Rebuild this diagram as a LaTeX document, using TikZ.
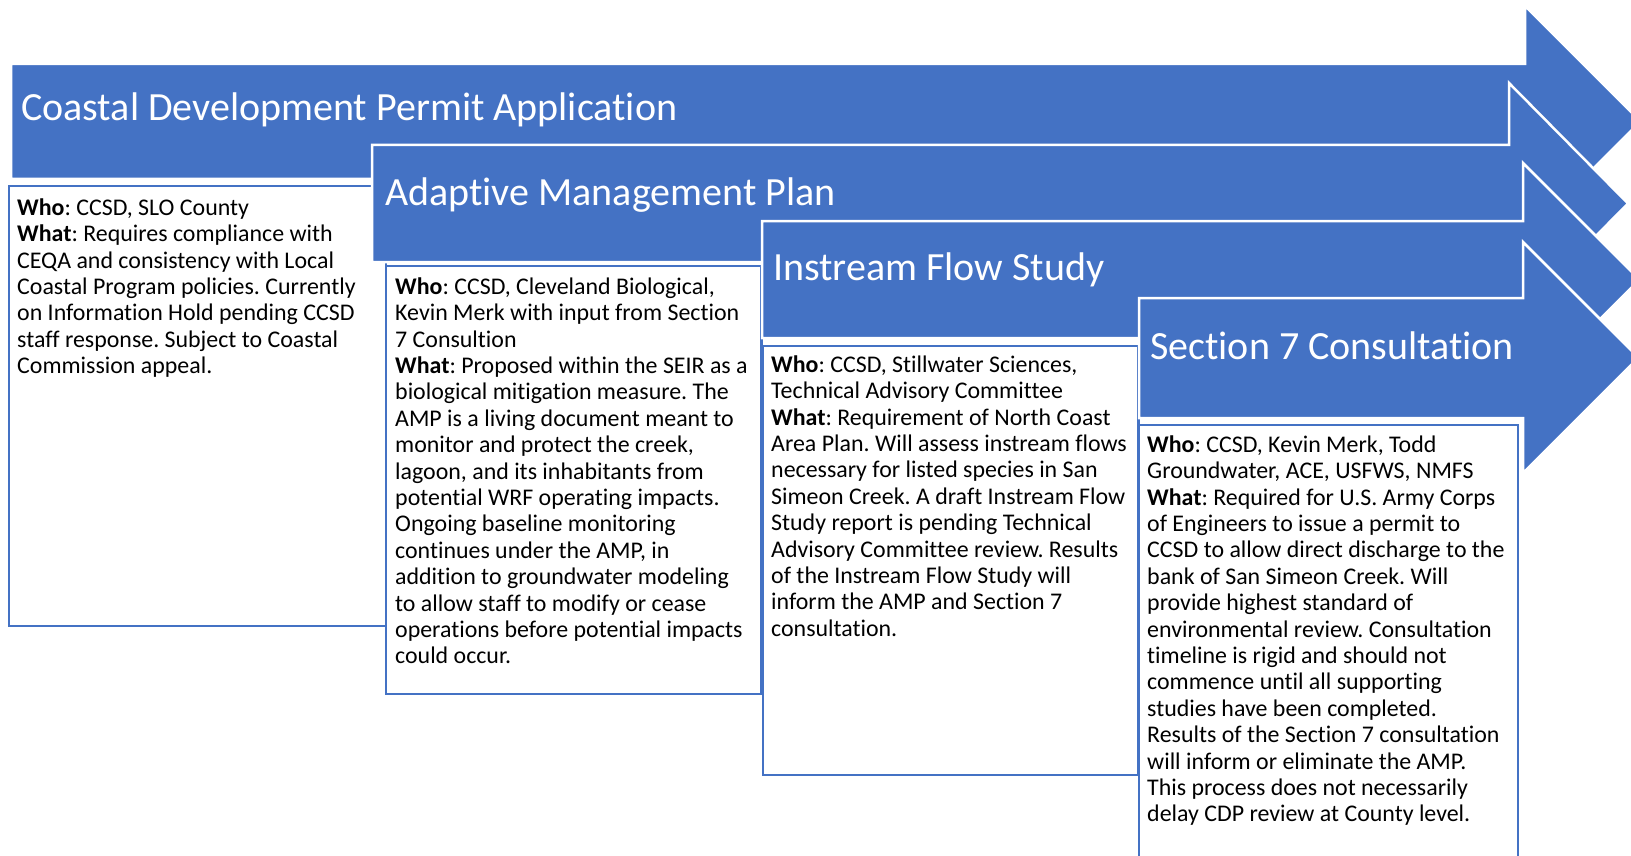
\documentclass[tikz,border=0pt]{standalone}
\usepackage{fontspec}
\setmainfont[Ligatures={NoCommon}]{Carlito}
\frenchspacing
\definecolor{accent}{HTML}{4472C4}
\begin{document}
\begin{tikzpicture}[x=1pt,y=-1pt,
  band/.style={fill=accent, draw=white, line width=2.5pt, line join=miter},
  card/.style={fill=white, draw=accent, line width=2.5pt},
  heading/.style={anchor=base west, text=white, inner sep=0pt,
    font=\fontsize{40}{48}\selectfont},
  body/.style={anchor=north west, align=left, inner sep=0pt, text=black,
    font=\fontsize{23.9}{26.4}\selectfont}]
\useasboundingbox (0,0) rectangle (1631,856);
\clip (0,0) rectangle (1631,856);

% stage 1: permit application
\path[band] (11,64) -- (1525,64) -- (1525,6) -- (1640.5,121.5) -- (1525,237)
  -- (1525,179) -- (11,179) -- cycle;
\node[heading] (cdp) at (21,121) {Coastal Development Permit Application};
\path[card] (9,186) rectangle (386,626);
\node[body] (cdptext) at (17,195) {\rule{0pt}{20pt}\textbf{Who}: CCSD, SLO County\\
\textbf{What}: Requires compliance with\\
CEQA and consistency with Local\\
Coastal Program policies. Currently\\
on Information Hold pending CCSD\\
staff response. Subject to Coastal\\
Commission appeal.};

% stage 2: adaptive management plan
\path[band] (372,145) -- (1509,145) -- (1509,83) -- (1628,203.5) -- (1509,324)
  -- (1509,262) -- (372,262) -- cycle;
\node[heading] (amp) at (385,205) {Adaptive Management Plan};
\path[card] (386,266) rectangle (761.5,694);
\node[body] (amptext) at (395,274) {\rule{0pt}{20pt}\textbf{Who}: CCSD, Cleveland Biological,\\
Kevin Merk with input from Section\\
7 Consultion\\
\textbf{What}: Proposed within the SEIR as a\\
biological mitigation measure. The\\
AMP is a living document meant to\\
monitor and protect the creek,\\
lagoon, and its inhabitants from\\
potential WRF operating impacts.\\
Ongoing baseline monitoring\\
continues under the AMP, in\\
addition to groundwater modeling\\
to allow staff to modify or cease\\
operations before potential impacts\\
could occur.};

% stage 3: instream flow study
\path[band] (762,221) -- (1523,221) -- (1523,163) -- (1639.5,279.5) -- (1523,396)
  -- (1523,338) -- (762,338) -- cycle;
\node[heading] (ifs) at (773,280) {Instream Flow Study};
\path[card] (763,346) rectangle (1138.5,775);
\node[body] (ifstext) at (771,352) {\rule{0pt}{20pt}\textbf{Who}: CCSD, Stillwater Sciences,\\
Technical Advisory Committee\\
\textbf{What}: Requirement of North Coast\\
Area Plan. Will assess instream flows\\
necessary for listed species in San\\
Simeon Creek. A draft Instream Flow\\
Study report is pending Technical\\
Advisory Committee review. Results\\
of the Instream Flow Study will\\
inform the AMP and Section 7\\
consultation.};

% stage 4: section 7 consultation
\path[band] (1139,298) -- (1523,298) -- (1523,242) -- (1638.5,357.5) -- (1523,473)
  -- (1523,418) -- (1139,418) -- cycle;
\node[heading] (sec7) at (1150,359) {Section 7 Consultation};
\path[card] (1139,425) rectangle (1518,880);
\node[body] (sec7text) at (1147,432) {\rule{0pt}{20pt}\textbf{Who}: CCSD, Kevin Merk, Todd\\
Groundwater, ACE, USFWS, NMFS\\
\textbf{What}: Required for U.S. Army Corps\\
of Engineers to issue a permit to\\
CCSD to allow direct discharge to the\\
bank of San Simeon Creek. Will\\
provide highest standard of\\
environmental review. Consultation\\
timeline is rigid and should not\\
commence until all supporting\\
studies have been completed.\\
Results of the Section 7 consultation\\
will inform or eliminate the AMP.\\
This process does not necessarily\\
delay CDP review at County level.};
\end{tikzpicture}
\end{document}
